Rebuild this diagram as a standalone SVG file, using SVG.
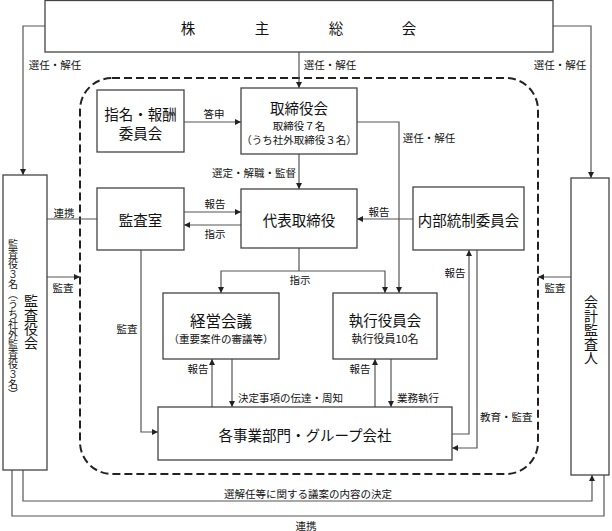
<svg xmlns="http://www.w3.org/2000/svg" width="612" height="531" viewBox="0 0 612 531">
<style>
text{font-family:"Noto Sans CJK JP","Noto Sans CJK SC",sans-serif;fill:#111;dominant-baseline:central}
.box{fill:#fff;stroke:#444;stroke-width:1.3}
.ln{fill:none;stroke:#555;stroke-width:1.2}
.ar{fill:none;stroke:#555;stroke-width:1.2;marker-end:url(#ah)}
.lb{font-size:10.5px}
.tt{font-size:14.5px;text-anchor:middle}
.st{font-size:10.5px;text-anchor:middle}
.c{text-anchor:middle}
.v{writing-mode:vertical-rl;text-anchor:middle}
</style>
<defs>
<marker id="ah" markerUnits="userSpaceOnUse" markerWidth="6" markerHeight="6" refX="6" refY="3" orient="auto">
<path d="M0,0 L6,3 L0,6 z" fill="#222"/>
</marker>
</defs>
<rect x="0" y="0" width="612" height="531" fill="#fff"/>
<rect id="boundary" x="80" y="78" width="458" height="396" rx="32" ry="32" fill="none" stroke="#222" stroke-width="2" stroke-dasharray="8,4"/>
<g id="connectors">
<polyline class="ar" points="45,26 23,26 23,175"/>
<polyline class="ar" points="553,26 591,26 591,178"/>
<line class="ar" x1="299" y1="52" x2="299" y2="88"/>
<line class="ar" x1="184" y1="122" x2="241" y2="122"/>
<line class="ar" x1="299" y1="154" x2="299" y2="189"/>
<polyline class="ar" points="357,122 399,122 399,293"/>
<line class="ar" x1="184" y1="212" x2="241" y2="212"/>
<line class="ar" x1="241" y1="225" x2="184" y2="225"/>
<line class="ar" x1="413" y1="219" x2="357" y2="219"/>
<line class="ln" x1="47" y1="219" x2="97" y2="219"/>
<line class="ar" x1="47" y1="277" x2="80" y2="277"/>
<line class="ar" x1="571" y1="277" x2="538" y2="277"/>
<polyline class="ln" points="299,248 299,271"/>
<polyline class="ar" points="299,271 221,271 221,293"/>
<polyline class="ar" points="299,271 385,271 385,293"/>
<polyline class="ar" points="141,250 141,432 158,432"/>
<line class="ar" x1="212" y1="407" x2="212" y2="359"/>
<line class="ar" x1="232" y1="359" x2="232" y2="407"/>
<line class="ar" x1="375" y1="407" x2="375" y2="359"/>
<line class="ar" x1="391" y1="359" x2="391" y2="407"/>
<polyline class="ar" points="452,434 469,434 469,250"/>
<polyline class="ar" points="477,250 477,448 452,448"/>
<polyline class="ar" points="23,470 23,501 592,501 592,475"/>
<polyline class="ln" points="12,470 12,516 604,516 604,475"/>
<text class="lb c" x="55" y="64">選任・解任</text>
<text class="lb c" x="330" y="64">選任・解任</text>
<text class="lb c" x="560" y="64">選任・解任</text>
<text class="lb c" x="214" y="113">答申</text>
<text class="lb c" x="254" y="172">選定・解職・監督</text>
<text class="lb c" x="429" y="137">選任・解任</text>
<text class="lb c" x="64" y="212">連携</text>
<text class="lb c" x="63" y="287">監査</text>
<text class="lb c" x="215" y="203">報告</text>
<text class="lb c" x="215" y="233">指示</text>
<text class="lb c" x="379" y="211">報告</text>
<text class="lb c" x="300" y="279">指示</text>
<text class="lb c" x="127" y="328">監査</text>
<text class="lb c" x="455" y="272">報告</text>
<text class="lb c" x="555" y="287">監査</text>
<text class="lb c" x="198" y="368">報告</text>
<text class="lb" x="238" y="397">決定事項の伝達・周知</text>
<text class="lb c" x="360" y="368">報告</text>
<text class="lb" x="397" y="397">業務執行</text>
<text class="lb" x="480" y="416">教育・監査</text>
<text class="lb c" x="308" y="493">選解任等に関する議案の内容の決定</text>
<text class="lb c" x="306" y="525">連携</text>
</g>
<g id="shareholders">
<rect class="box" x="45" y="0.5" width="508" height="51.5"/>
<text class="tt" x="188" y="27">株</text>
<text class="tt" x="262" y="27">主</text>
<text class="tt" x="336" y="27">総</text>
<text class="tt" x="409" y="27">会</text>
</g>
<g id="nomination">
<rect class="box" x="97" y="90" width="87" height="62"/>
<text class="tt" x="140.5" y="113">指名・報酬</text>
<text class="tt" x="140.5" y="132">委員会</text>
</g>
<g id="board">
<rect class="box" x="241" y="88" width="116" height="66"/>
<text class="tt" x="299" y="107">取締役会</text>
<text class="st" x="299" y="125">取締役７名</text>
<text class="st" x="299" y="139">（うち社外取締役３名）</text>
</g>
<g id="audit-office">
<rect class="box" x="97" y="188" width="87" height="62"/>
<text class="tt" x="140.5" y="219">監査室</text>
</g>
<g id="president">
<rect class="box" x="241" y="189" width="116" height="59"/>
<text class="tt" x="299" y="219">代表取締役</text>
</g>
<g id="internal-control">
<rect class="box" x="413" y="187" width="111" height="63"/>
<text class="tt" x="468.5" y="219">内部統制委員会</text>
</g>
<g id="management-meeting">
<rect class="box" x="163" y="293" width="116" height="66"/>
<text class="tt" x="221" y="320" style="font-size:15.5px">経営会議</text>
<text class="st" x="221" y="338">（重要案件の審議等）</text>
</g>
<g id="executive-officers">
<rect class="box" x="333" y="293" width="104" height="66"/>
<text class="tt" x="385" y="319">執行役員会</text>
<text class="st" x="385" y="338" style="font-size:11px">執行役員10名</text>
</g>
<g id="business-units">
<rect class="box" x="158" y="407" width="294" height="53"/>
<text class="tt" x="305" y="434">各事業部門・グループ会社</text>
</g>
<g id="audit-board">
<rect class="box" x="3" y="175" width="44" height="295"/>
<text class="v" x="31" y="322" style="font-size:14px">監査役会</text>
<text class="v" x="13" y="319" style="font-size:10px">監査役３名（うち社外監査役３名）</text>
</g>
<g id="accounting-auditor">
<rect class="box" x="571" y="178" width="38" height="297"/>
<text class="v" x="591" y="330" style="font-size:14px">会計監査人</text>
</g>
</svg>
